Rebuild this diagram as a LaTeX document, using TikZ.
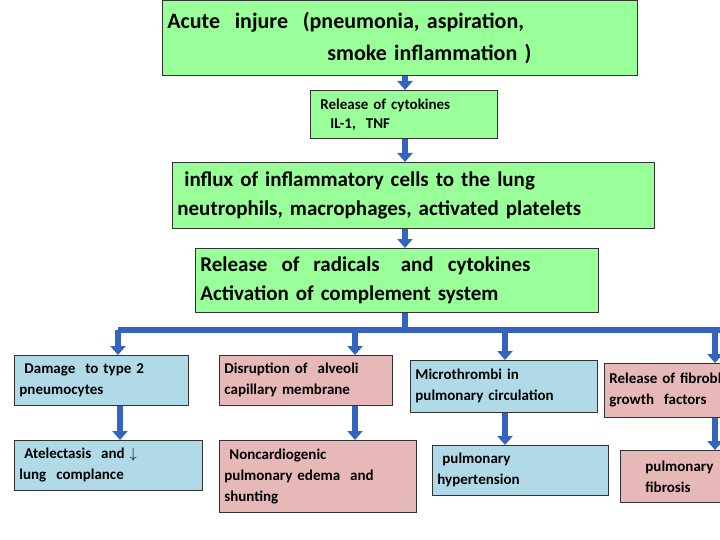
\documentclass[tikz,border=0pt]{standalone}
\usepackage{fontspec}
\setmainfont{Carlito}
\usetikzlibrary{arrows.meta}
\definecolor{gbox}{RGB}{153,255,153}
\definecolor{bbox}{RGB}{176,218,232}
\definecolor{pbox}{RGB}{230,185,184}
\definecolor{arr}{RGB}{52,100,190}
\begin{document}
\begin{tikzpicture}[x=1pt,y=-1pt,
  box/.style={draw=black!80,line width=0.8pt,inner xsep=5pt,inner ysep=3pt,align=left,anchor=north west,font=\bfseries},
  ar/.style={draw=arr,line width=6pt,-{Triangle[width=15pt,length=9pt]}},
  bar/.style={draw=arr,line width=6pt}]
\useasboundingbox (0,0) rectangle (720,540);
\node[box,fill=gbox,text width=465pt,minimum height=75pt,font=\bfseries\fontsize{22}{32}\selectfont] (a) at (162,0) {Acute\ \ injure\ \ (pneumonia, aspiration,\\ \hspace{160pt}smoke inflammation )};
\node[box,fill=gbox,text width=177pt,minimum height=48pt,font=\bfseries\fontsize{15}{19}\selectfont] (b) at (310,90) {\ Release of cytokines\\ \ \ \ IL-1,\ \ TNF};
\node[box,fill=gbox,text width=472pt,minimum height=66pt,font=\bfseries\fontsize{21}{29}\selectfont] (c) at (172,162) {\ influx of inflammatory cells to the lung\\neutrophils, macrophages, activated platelets};
\node[box,fill=gbox,text width=393pt,minimum height=64pt,font=\bfseries\fontsize{21}{29}\selectfont] (d) at (195,248) {Release\ \ of\ \ radicals\ \ \ and\ \ cytokines\\Activation of complement system};
\tikzset{sb/.style={box,font=\bfseries\fontsize{15}{21}\selectfont}}
\node[sb,fill=bbox,text width=164pt,minimum height=50pt] (a1) at (14,355) {\ Damage\ \ to type 2\\pneumocytes};
\node[sb,fill=bbox,text width=178pt,minimum height=50pt] (a2) at (14,440) {\ Atelectasis\ \ and $\downarrow$\\lung\ \ complance};
\node[sb,fill=pbox,text width=163pt,minimum height=50pt] (b1) at (219,355) {Disruption of\ \ alveoli\\capillary membrane};
\node[sb,fill=pbox,text width=187pt,minimum height=72pt] (b2) at (219,440) {\ Noncardiogenic\\pulmonary edema\ \ and\\shunting};
\node[sb,fill=bbox,text width=177pt,minimum height=52pt] (c1) at (410,360) {Microthrombi in\\pulmonary circulation};
\node[sb,fill=bbox,text width=166pt,minimum height=50pt] (c2) at (432,445) {\ pulmonary\\hypertension};
\node[sb,fill=pbox,text width=170pt,minimum height=54pt] (d1) at (604,363) {\mbox{Release of fibroblast}\\growth\ \ factors};
\node[sb,fill=pbox,text width=150pt,minimum height=52pt] (d2) at (620,450) {\ \ \ \ pulmonary\\\ \ \ \ fibrosis};
\draw[ar] (a.south -| 405,0) -- (b.north -| 405,0);
\draw[ar] (b.south -| 405,0) -- (c.north -| 405,0);
\draw[ar] (c.south -| 405,0) -- (d.north -| 405,0);
\coordinate (L) at (118,330);
\coordinate (R) at (730,330);
\coordinate (m) at (405,330);
\coordinate (dx) at (715,330);
\draw[bar] (d.south -| m) -- (m);
\draw[bar] (L) -- (R);
\draw[ar] (L) -- (a1.north -| L);
\draw[ar] (355,330) -- (b1.north -| 355,0);
\draw[ar] (505,330) -- (c1.north -| 505,0);
\draw[ar] (dx) -- (d1.north -| dx);
\draw[ar] (a1.south -| 120,0) -- (a2.north -| 120,0);
\draw[ar] (b1.south -| 355,0) -- (b2.north -| 355,0);
\draw[ar] (c1.south -| 505,0) -- (c2.north -| 505,0);
\draw[ar] (d1.south -| dx) -- (d2.north -| dx);
\end{tikzpicture}
\end{document}
